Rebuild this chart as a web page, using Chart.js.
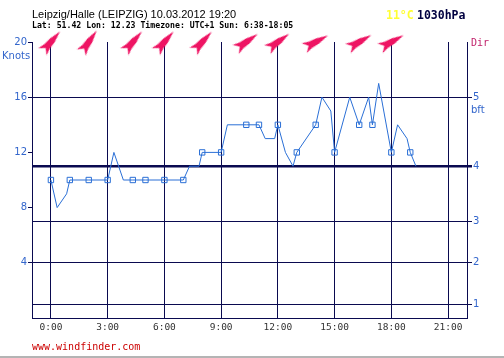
<!DOCTYPE html>
<html><head><meta charset="utf-8">
<script src="https://cdn.jsdelivr.net/npm/chart.js@4.4.1/dist/chart.umd.min.js"></script>
<style>
html,body{margin:0;padding:0;background:#fff;}
#wrap{position:relative;width:504px;height:358px;overflow:hidden;}
#c{position:absolute;left:0;top:0;}
.t{position:absolute;white-space:nowrap;line-height:1;}
</style></head><body>
<div id="wrap">
<canvas id="c" width="504" height="358"></canvas>
<div class="t" style="left:32px;top:8px;font:11px 'Liberation Sans',Arial,sans-serif;color:#000;">Leipzig/Halle (LEIPZIG) 10.03.2012 19:20</div>
<div class="t" style="left:32px;top:20px;font:bold 8.2px 'DejaVu Sans Mono',monospace;color:#000;">Lat: 51.42 Lon: 12.23 Timezone: UTC+1 Sun: 6:38-18:05</div>
<div class="t" style="left:386px;top:8px;font:bold 11.5px 'DejaVu Sans Mono',monospace;color:#ffff33;">11°C</div>
<div class="t" style="left:417px;top:8px;font:bold 11.5px 'DejaVu Sans Mono',monospace;color:#000040;">1030hPa</div>
<div class="t" style="left:2px;top:50px;font:10px 'DejaVu Sans',sans-serif;color:#3366cc;">Knots</div>
<div class="t" style="left:471px;top:37px;font:10px 'DejaVu Sans Mono',monospace;color:#c0206a;">Dir</div>
<div class="t" style="left:471px;top:104px;font:10px 'DejaVu Sans',sans-serif;color:#3366cc;">bft</div>
<div class="t" style="left:32px;top:341px;font:10px 'DejaVu Sans Mono',monospace;color:#cc0000;">www.windfinder.com</div>
<div style="position:absolute;left:0;top:356px;width:504px;height:2px;background:#b4b4b4;"></div>
</div>
<script>
// ---- data ----
const hours  = [0,0.33,0.83,1,2,3,3.33,3.83,4.33,5,6,7,7.33,7.83,8,9,9.33,10.33,11,11.33,11.83,12,12.4,12.8,13,14,14.33,14.8,15,15.8,16.3,16.8,17,17.33,18,18.33,18.83,19,19.3];
const knots  = [10,8,9,10,10,10,12,10,10,10,10,10,11,11,12,12,14,14,14,13,13,14,12,11,12,14,16,15,12,16,14,16,14,17,12,14,13,12,11];
const isReport = [1,0,0,1,1,1,0,0,1,1,1,1,0,0,1,1,0,1,1,0,0,1,0,0,1,1,0,0,1,0,1,0,1,0,1,0,0,1,0];
const dirHours = [0,2,4.33,6,8,10.33,12,14,16.3,18];
const dirDegrees = [41,35,41,41,43,55,54,62,60,61];
const xTickHours = [0,3,6,9,12,15,18,21];
const knotTicks = [4,8,12,16,20];
const bftKnots = [1,4,7,11,16];
const bftLabels = ['1','2','3','4','5'];

const NAVY = '#0a0a50';
const BLUE = '#2a6fd6';
const LBLUE = '#3366cc';

// arrow glyph (points up)
const arrow = document.createElement('canvas');
arrow.width = 32; arrow.height = 32;
(function(){
  const g = arrow.getContext('2d');
  g.translate(16,16);
  g.fillStyle = '#ee1463';
  g.beginPath();
  g.moveTo(0,-14); g.lineTo(3,-2); g.lineTo(3.5,6); g.lineTo(5.5,13);
  g.lineTo(0,8); g.lineTo(-5.5,13); g.lineTo(-3.5,6); g.lineTo(-3,-2);
  g.closePath(); g.fill();
})();

const bands = {
  id:'bands',
  beforeDraw(chart){
    const {ctx, chartArea:a, scales:{y}} = chart;
    const fill = (from,to,col)=>{
      const y1 = y.getPixelForValue(to), y2 = y.getPixelForValue(from);
      ctx.fillStyle = col; ctx.fillRect(a.left, y1, a.right-a.left, y2-y1);
    };
    ctx.save();
    fill(bftKnots[3], 20, '#dfffdf');
    fill(bftKnots[2], bftKnots[3], '#ccffff');
    fill(0, bftKnots[2], '#e6ffff');
    ctx.restore();
  },
  beforeDatasetsDraw(chart){
    const {ctx, chartArea:a} = chart;
    ctx.save(); ctx.strokeStyle = NAVY; ctx.lineWidth = 1;
    ctx.strokeRect(a.left+0.5, a.top+0.5, a.right-a.left-1, a.bottom-a.top-1);
    ctx.restore();
  }
};

new Chart(document.getElementById('c'), {
  type:'line',
  data:{
    datasets:[
      {
        data: hours.map((h,i)=>({x:h,y:knots[i]})),
        borderColor: BLUE, borderWidth: 1, tension: 0,
        pointStyle: 'rect',
        pointRadius: isReport.map(r=> r ? 3.8 : 0),
        pointBorderColor: BLUE, pointBackgroundColor: 'rgba(0,0,0,0)',
        pointBorderWidth: 1, yAxisID:'y', xAxisID:'x'
      },
      {
        data: dirHours.map(h=>({x:h,y:20})),
        showLine:false, pointStyle: arrow, pointRadius: 10,
        pointRotation: dirDegrees, clip:false, yAxisID:'y', xAxisID:'x'
      }
    ]
  },
  options:{
    responsive:false, animation:false,
    layout:{padding:{top:42,left:0,right:0,bottom:0}},
    plugins:{legend:{display:false}, tooltip:{enabled:false}},
    scales:{
      x:{
        type:'linear', min:-1, max:22,
        afterBuildTicks(s){ s.ticks = xTickHours.map(v=>({value:v})); },
        afterFit(s){ s.height = 40; },
        grid:{color:NAVY, lineWidth:1, drawTicks:false, tickLength:0},
        border:{color:NAVY},
        ticks:{padding:4, color:'#333', maxRotation:0, autoSkip:false,
          font:{family:"'DejaVu Sans Mono', monospace", size:9.5},
          callback:(v)=> v + ':00'}
      },
      y:{
        position:'left', min:0, max:20,
        afterBuildTicks(s){ s.ticks = knotTicks.map(v=>({value:v})); },
        afterFit(s){ s.width = 32; },
        grid:{drawOnChartArea:false, drawTicks:true, tickLength:4, color:NAVY},
        border:{color:NAVY},
        ticks:{padding:1, color:LBLUE, font:{family:"'DejaVu Sans', sans-serif", size:10}}
      },
      y2:{
        position:'right', min:0, max:20,
        afterBuildTicks(s){ s.ticks = bftKnots.map(v=>({value:v})); },
        afterFit(s){ s.width = 37; },
        grid:{drawOnChartArea:true, drawTicks:true, tickLength:5, color:NAVY,
          lineWidth:(c)=> (c.tick && c.tick.value===bftKnots[3]) ? 2.5 : 1},
        border:{color:NAVY},
        ticks:{padding:1, color:LBLUE, font:{family:"'DejaVu Sans', sans-serif", size:10},
          callback:(v,i)=> bftLabels[i]}
      }
    }
  }
});
</script>
</body></html>
